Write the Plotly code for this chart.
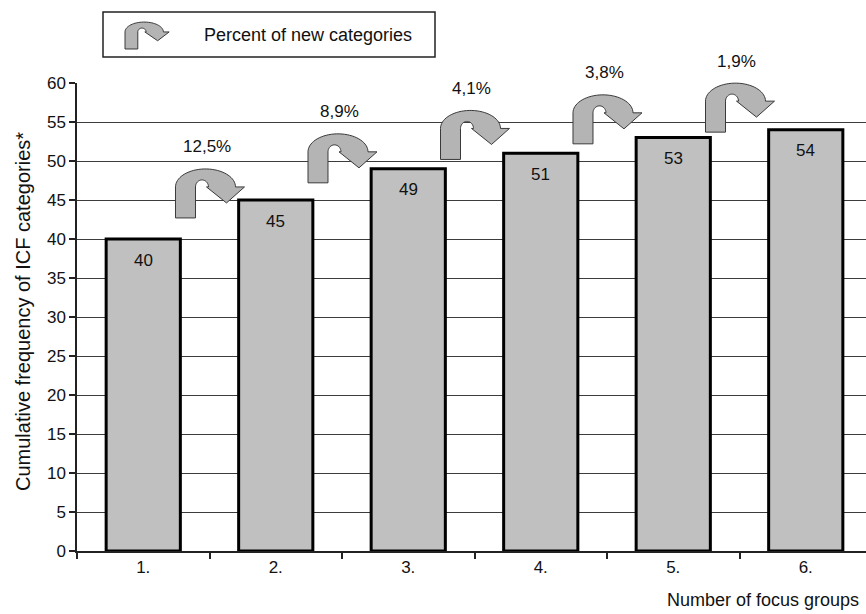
import numpy as np
import plotly.graph_objects as go

# ---- data ----
groups = ["1.", "2.", "3.", "4.", "5.", "6."]
cumulative = [40, 45, 49, 51, 53, 54]
new_pct = ["12,5%", "8,9%", "4,1%", "3,8%", "1,9%"]
y_title = "Cumulative frequency of ICF categories*"
x_title = "Number of focus groups"
legend_label = "Percent of new categories"

# ---- layout geometry ----
W, H = 866, 614
ML, MR, MT, MB = 77, 0, 83, 63
PW, PH = W - ML - MR, H - MT - MB
CAT_PX = 132.5
x_range = [-0.5, -0.5 + PW / CAT_PX]
y_range = [0, 60]
dx = (x_range[1] - x_range[0]) / PW   # data units per px
dy = (y_range[1] - y_range[0]) / PH

FONT = "Liberation Sans, Arial, sans-serif"
TXT = "#111111"
ARROW_FILL = "#b4b4b4"
ARROW_LINE = "#3a3a3a"


def arrow_pts():
    # local pixel coordinates, origin = bottom-left of stem, y up
    t_o = np.linspace(np.pi, 0, 36)
    outer = [(30 + 30 * np.cos(t), 31 + 18 * np.sin(t)) for t in t_o]
    t_i = np.linspace(0, np.pi, 20)
    inner = [(26.5 + 6.5 * np.cos(t), 31 + 7 * np.sin(t)) for t in t_i]
    return [(0, 0)] + outer + [(69, 31), (51, 15), (31, 31)] + inner + [(20, 0)]


def path_from(pts, fx, fy):
    return "M " + " L ".join(f"{fx(x):.5f},{fy(y):.5f}" for x, y in pts) + " Z"


def d2px(x):   # data x -> paper x
    return (x - x_range[0]) / (x_range[1] - x_range[0])


def d2py(y):   # data y -> paper y
    return (y - y_range[0]) / (y_range[1] - y_range[0])


def pxp(px):   # pixel x -> paper x
    return (px - ML) / PW


def pyp(py):   # pixel y (from top) -> paper y
    return (H - MB - py) / PH


xs = list(range(len(groups)))

fig = go.Figure()
fig.add_trace(go.Bar(
    x=xs, y=cumulative, width=0.56,
    marker=dict(color="#c0c0c0", line=dict(color="#000000", width=3)),
    hoverinfo="skip", showlegend=False,
))

shapes = []
annotations = []

# value labels inside the bars
for x, v in zip(xs, cumulative):
    annotations.append(dict(x=x, y=v, xref="x", yref="y", text=str(v),
                            showarrow=False, xanchor="center", yanchor="middle",
                            yshift=-21, font=dict(family=FONT, size=17, color=TXT)))

# curved arrows between consecutive bars
for i, lab in enumerate(new_pct):
    boundary = xs[i] + 0.5
    x0 = boundary - 34 * dx
    y0 = (cumulative[i] + cumulative[i + 1]) / 2 + 0.2
    shapes.append(dict(
        type="path", xref="paper", yref="paper",
        path=path_from(arrow_pts(), lambda px, x0=x0: d2px(x0 + px * dx),
                       lambda py, y0=y0: d2py(y0 + py * dy)),
        fillcolor=ARROW_FILL, line=dict(color=ARROW_LINE, width=1), layer="above",
    ))
    annotations.append(dict(
        x=d2px(x0 + 31 * dx), y=d2py(y0 + 71 * dy), xref="paper", yref="paper",
        text=lab, showarrow=False, xanchor="center", yanchor="middle",
        font=dict(family=FONT, size=17, color=TXT),
    ))

# legend box
shapes.append(dict(type="rect", xref="paper", yref="paper",
                   x0=pxp(103), x1=pxp(435), y0=pyp(57), y1=pyp(12),
                   line=dict(color="#222222", width=1.5), fillcolor="white"))
sx, sy = 0.64, 0.55
shapes.append(dict(
    type="path", xref="paper", yref="paper",
    path=path_from(arrow_pts(), lambda px: pxp(125 + px * sx),
                   lambda py: pyp(49 - py * sy)),
    fillcolor=ARROW_FILL, line=dict(color=ARROW_LINE, width=1),
))
annotations.append(dict(x=pxp(202), y=pyp(35), xref="paper", yref="paper",
                        text=legend_label, showarrow=False, xanchor="left",
                        yanchor="middle",
                        font=dict(family=FONT, size=18, color=TXT)))

# axis titles
annotations.append(dict(x=pxp(23), y=pyp(312), xref="paper", yref="paper",
                        text=y_title, showarrow=False, textangle=-90,
                        xanchor="center", yanchor="middle",
                        font=dict(family=FONT, size=20, color=TXT)))
annotations.append(dict(x=pxp(861), y=pyp(600), xref="paper", yref="paper",
                        text=x_title, showarrow=False, xanchor="right",
                        yanchor="middle",
                        font=dict(family=FONT, size=18, color=TXT)))

fig.update_layout(
    width=W, height=H,
    margin=dict(l=ML, r=MR, t=MT, b=MB, pad=0),
    paper_bgcolor="white", plot_bgcolor="white",
    font=dict(family=FONT, size=17, color=TXT),
    shapes=shapes, annotations=annotations, showlegend=False,
    xaxis=dict(
        range=x_range, tickmode="array", tickvals=xs, ticktext=groups,
        ticks="", showgrid=False, zeroline=False,
        showline=True, linecolor="#222222", linewidth=1.5,
        tickfont=dict(family=FONT, size=17, color=TXT),
        minor=dict(tick0=-0.5, dtick=1, ticks="outside", ticklen=6,
                   tickcolor="#222222", tickwidth=1.5, showgrid=False),
        fixedrange=True,
    ),
    yaxis=dict(
        range=y_range, tickmode="linear", tick0=0, dtick=5,
        ticks="outside", ticklen=6, tickcolor="#222222", tickwidth=1.5,
        showgrid=True, gridcolor="#3c3c3c", gridwidth=1,
        zeroline=False, showline=True, linecolor="#222222", linewidth=1.5,
        tickfont=dict(family=FONT, size=17, color=TXT),
        fixedrange=True,
    ),
)

fig.write_html("out.html", config={"displayModeBar": False})
